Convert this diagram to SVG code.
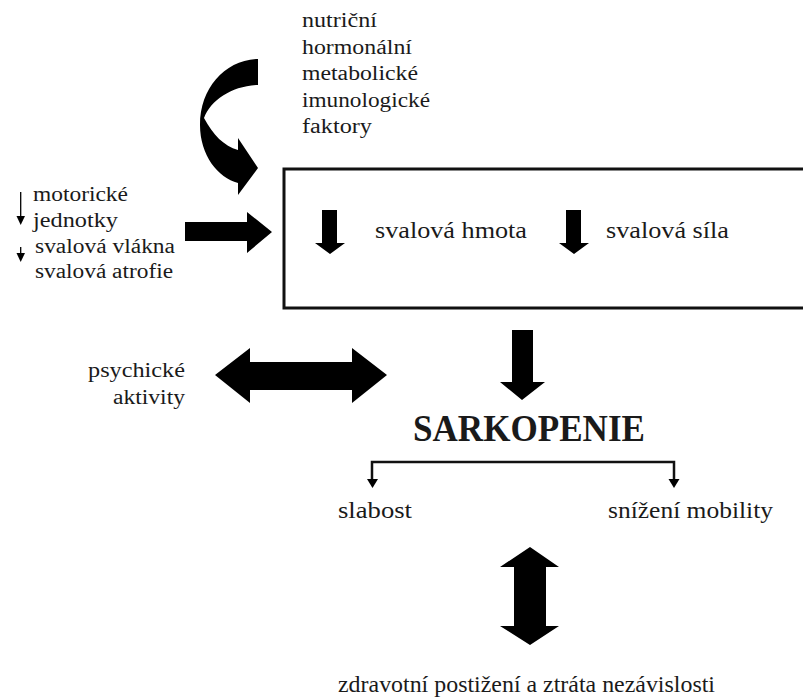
<svg xmlns="http://www.w3.org/2000/svg" width="803" height="698" viewBox="0 0 803 698">
<style>
text{font-family:"Times New Roman","Liberation Serif",serif;fill:#1a1a1a}
.l{font-size:20px}
.m{font-size:23px}
.b{font-size:37px;font-weight:bold}
.blk{fill:#000}
.ln{stroke:#111;stroke-width:2.5;fill:none}
</style>
<rect width="803" height="698" fill="#fff"/>
<g id="factors">
<text class="l" x="302" y="27" textLength="75" lengthAdjust="spacingAndGlyphs">nutriční</text>
<text class="l" x="302" y="54" textLength="110" lengthAdjust="spacingAndGlyphs">hormonální</text>
<text class="l" x="302" y="80" textLength="116" lengthAdjust="spacingAndGlyphs">metabolické</text>
<text class="l" x="302" y="107" textLength="128" lengthAdjust="spacingAndGlyphs">imunologické</text>
<text class="l" x="302" y="133" textLength="70" lengthAdjust="spacingAndGlyphs">faktory</text>
</g>
<g id="motor">
<text class="l" x="33" y="201" textLength="95" lengthAdjust="spacingAndGlyphs">motorické</text>
<text class="l" x="33" y="227" textLength="85" lengthAdjust="spacingAndGlyphs">jednotky</text>
<text class="l" x="35" y="253" textLength="140" lengthAdjust="spacingAndGlyphs">svalová vlákna</text>
<text class="l" x="35" y="278" textLength="138" lengthAdjust="spacingAndGlyphs">svalová atrofie</text>
<line x1="20.7" y1="192" x2="20.7" y2="218" stroke="#000" stroke-width="1.3"/>
<polygon class="blk" points="16.5,216 25,216 20.7,225"/>
<line x1="20.7" y1="247" x2="20.7" y2="254" stroke="#000" stroke-width="1.3"/>
<polygon class="blk" points="16.5,253 25,253 20.7,262"/>
</g>
<g id="muscle-box">
<rect x="284" y="169" width="530" height="139" fill="none" stroke="#111" stroke-width="3"/>
<polygon class="blk" points="322,210 337,210 337,243 345,243 330,254 315,243 322,243"/>
<text class="m" x="375" y="238" textLength="152" lengthAdjust="spacingAndGlyphs">svalová hmota</text>
<polygon class="blk" points="566,210 581,210 581,243 589,243 574,254 559,243 566,243"/>
<text class="m" x="606" y="238" textLength="123" lengthAdjust="spacingAndGlyphs">svalová síla</text>
</g>
<g id="psychic">
<text class="l" x="185" y="377" text-anchor="end" textLength="97" lengthAdjust="spacingAndGlyphs">psychické</text>
<text class="l" x="185" y="404" text-anchor="end" textLength="72" lengthAdjust="spacingAndGlyphs">aktivity</text>
</g>
<g id="sarkopenie">
<text class="b" x="413" y="441" textLength="232" lengthAdjust="spacingAndGlyphs">SARKOPENIE</text>
</g>
<g id="slabost">
<text class="m" x="338" y="518" textLength="74" lengthAdjust="spacingAndGlyphs">slabost</text>
</g>
<g id="mobilita">
<text class="m" x="608" y="518" textLength="165" lengthAdjust="spacingAndGlyphs">snížení mobility</text>
</g>
<g id="zdravi">
<text class="m" x="338" y="692" textLength="377" lengthAdjust="spacingAndGlyphs">zdravotní postižení a ztráta nezávislosti</text>
</g>
<g id="connectors">
<path class="blk" d="M258,59 L258,85 C232,86 211,100 204,118 C213,135 224,146 238,150 L238,138 L258,168 L238,195 L238,183 C218,178 200,155 200,125 C200,88 225,60 258,59 Z"/>
<polygon class="blk" points="185,222 247,222 247,212 272,232 247,253 247,241 185,241"/>
<polygon class="blk" points="512,330 533,330 533,382 545,382 522,400 500,382 512,382"/>
<polygon class="blk" points="215,375 250,348 250,362 352,362 352,348 387,375 352,403 352,390 250,390 250,403"/>
<path class="ln" d="M372,481 L372,462 L674,462 L674,481"/>
<polygon class="blk" points="367,479 378,479 372.5,488"/>
<polygon class="blk" points="668.5,479 679.5,479 674,488"/>
<polygon class="blk" points="530,547 559,567 546,567 546,626 559,626 530,645 500,626 514,626 514,567 500,567"/>
</g>
</svg>
